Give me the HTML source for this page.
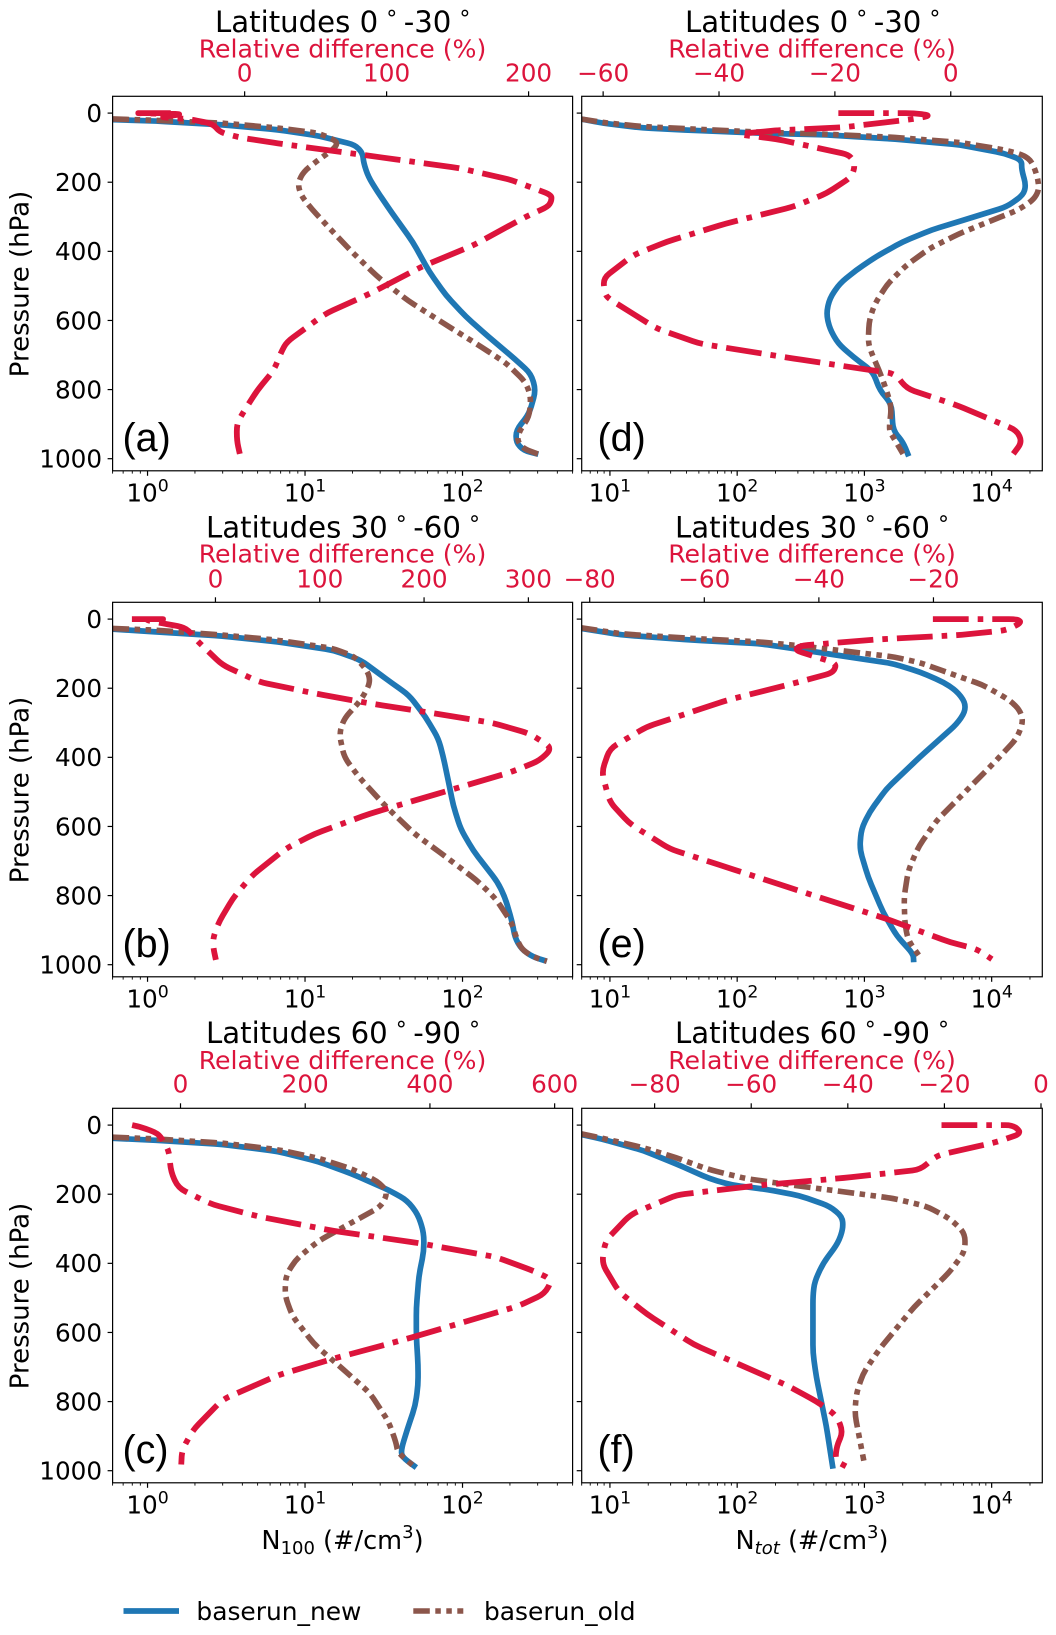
<!DOCTYPE html>
<html lang="en">
<head>
<meta charset="utf-8">
<title>Vertical profiles of N100 and Ntot by latitude band</title>
<style>
html,body{margin:0;padding:0;background:#fff;}
svg{display:block;font-family:"DejaVu Sans","Liberation Sans",sans-serif;}
</style>
</head>
<body>
<svg id="chart" xmlns="http://www.w3.org/2000/svg" width="1056" height="1635" viewBox="0 0 1056 1635">
  <defs id="clips"></defs>
  <g id="panels"></g>

  <g font-size="29.2" fill="#000">
    <text x="215" y="32">Latitudes 0<tspan dx="8" dy="-6" font-size="22">°</tspan><tspan dx="6.5" dy="6">-30</tspan><tspan dx="8" dy="-6" font-size="22">°</tspan></text>
    <text x="685" y="32">Latitudes 0<tspan dx="8" dy="-6" font-size="22">°</tspan><tspan dx="6.5" dy="6">-30</tspan><tspan dx="8" dy="-6" font-size="22">°</tspan></text>
    <text x="206" y="537.5">Latitudes 30<tspan dx="8" dy="-6" font-size="22">°</tspan><tspan dx="6.5" dy="6">-60</tspan><tspan dx="8" dy="-6" font-size="22">°</tspan></text>
    <text x="675" y="537.5">Latitudes 30<tspan dx="8" dy="-6" font-size="22">°</tspan><tspan dx="6.5" dy="6">-60</tspan><tspan dx="8" dy="-6" font-size="22">°</tspan></text>
    <text x="206" y="1043">Latitudes 60<tspan dx="8" dy="-6" font-size="22">°</tspan><tspan dx="6.5" dy="6">-90</tspan><tspan dx="8" dy="-6" font-size="22">°</tspan></text>
    <text x="675" y="1043">Latitudes 60<tspan dx="8" dy="-6" font-size="22">°</tspan><tspan dx="6.5" dy="6">-90</tspan><tspan dx="8" dy="-6" font-size="22">°</tspan></text>
  </g>

  <g font-size="25.2" fill="#dc143c" text-anchor="middle">
    <text x="342.5" y="57.3">Relative difference (%)</text>
    <text x="812" y="57.3">Relative difference (%)</text>
    <text x="342.5" y="562.5">Relative difference (%)</text>
    <text x="812" y="562.5">Relative difference (%)</text>
    <text x="342.5" y="1069">Relative difference (%)</text>
    <text x="812" y="1069">Relative difference (%)</text>
  </g>

  <g font-size="26" fill="#000" text-anchor="middle">
    <text transform="translate(28.5,284) rotate(-90)">Pressure (hPa)</text>
    <text transform="translate(28.5,790) rotate(-90)">Pressure (hPa)</text>
    <text transform="translate(28.5,1296) rotate(-90)">Pressure (hPa)</text>
  </g>

  <g font-size="39.5" fill="#000" style="font-family:'Liberation Sans',sans-serif">
    <text x="122.5" y="450.8">(a)</text>
    <text x="122.5" y="956.8">(b)</text>
    <text x="122.5" y="1462.8">(c)</text>
    <text x="597.5" y="450.8">(d)</text>
    <text x="597.5" y="956.8">(e)</text>
    <text x="597.5" y="1462.8">(f)</text>
  </g>

  <g font-size="25.6" fill="#000" text-anchor="middle">
    <text x="342.5" y="1549">N<tspan dy="5" font-size="18">100</tspan><tspan dy="-5"> (#/cm</tspan><tspan dy="-11" font-size="18">3</tspan><tspan dy="11">)</tspan></text>
    <text x="812" y="1549">N<tspan dy="5" font-size="18" font-style="italic">tot</tspan><tspan dy="-5"> (#/cm</tspan><tspan dy="-11" font-size="18">3</tspan><tspan dy="11">)</tspan></text>
  </g>

  <g>
    <g>
      <line x1="123.5" x2="179" y1="1611" y2="1611" stroke="#1f77b4" stroke-width="5.7"/>
      <text x="196.4" y="1620" font-size="24.9">baserun_new</text>
    </g>
    <g>
      <line x1="413.3" x2="463.3" y1="1611" y2="1611" stroke="#8c564b" stroke-width="5.5" stroke-dasharray="16.5 5.5 5.5 5.5 5.5 5.5"/>
      <text x="484" y="1620" font-size="24.9">baserun_old</text>
    </g>
  </g>
</svg>

<script>
// Panel (a)
const pressureABlue=[19,23,34,48,66,92,116,145,184,227,290,372,459,527,589,647,710,754,802,870,918,952,976,987];
const n100ABlue=[0.6,1.13,2.98,6.7,12.2,20.8,23.2,23.6,25.2,28.8,35.8,48.2,61.5,78.4,105,146,213,272,292,265,219,219,244,303];
const pressureABrown=[17,21,29,43,58,82,101,135,169,203,237,275,333,401,473,541,609,676,725,778,821,879,918,947,971,987];
const n100ABrown=[0.6,1.13,2.98,6.7,12.2,16.1,15.5,12.2,9.8,9.0,9.4,10.9,14.3,19.8,28.8,44.5,76.4,131,191,251,272,265,231,222,244,303];
const pressureARed=[0,0,3,12,17,31,56,71,89,118,137,159,193,237,255,271,300,382,444,522,580,662,691,744,802,870,899,947,986];
const relARed=[-52,-77.7,-43.3,-60.2,-39.4,-22.4,-17.2,-2.9,25.8,78,111.9,151,187.5,216.2,216,213.6,197.9,161.4,124.9,88.4,57.1,29.7,25.8,20.6,8.9,-1.6,-5.5,-5.5,-3.4];

// Panel (d)
const pressureDBlue=[17,29,43,50,58,63,75,92,116,135,164,208,237,271,304,338,372,415,454,493,536,580,623,667,705,749,802,841,918,952,993];
const ntotDBlue=[5.9,8.75,18.1,44.8,150,502,1680,5640,12400,17200,17200,18600,17700,13100,6750,3370,2010,1240,865,640,533,502,533,621,815,1170,1320,1630,1680,2010,2230];
const pressureDBrown=[17,27,39,46,55,61,70,85,106,121,140,184,222,251,280,309,348,391,440,493,551,599,667,705,749,802,850,918,937,986];
const ntotDBrown=[5.9,8.75,18.1,44.8,150,502,1680,5640,12400,17700,20700,22900,23600,21300,16200,10300,5640,3270,2140,1530,1210,1090,1070,1170,1320,1490,1630,1560,1680,2010];
const pressureDRed=[0,0,7,17,24,41,50,61,75,121,150,184,232,271,319,372,411,478,522,536,623,667,710,739,754,797,845,918,952,986];
const relDRed=[-19.4,-6.4,-3.3,-6.4,-9.9,-18.5,-30.1,-37,-30.1,-17.4,-16.5,-17.1,-21.4,-27.2,-38.7,-49,-54.8,-60,-59.7,-59.1,-50.8,-43.3,-27.2,-15.7,-9.6,-7.6,1,11.4,12.3,10.8];

// Panel (b)
const pressureBBlue=[29,37,49,66,90,119,186,220,283,346,399,486,539,607,670,761,805,877,921,955,977,990];
const n100BBlue=[0.6,1.13,2.98,6.7,15.1,22.6,35.8,45.7,58.2,70.3,75.5,82.8,87.3,97.3,117,167,186,207,215,237,279,343];
const pressureBBrown=[27,32,46,61,85,109,153,186,235,288,331,399,457,539,621,684,757,810,882,921,955,977,990];
const n100BBrown=[0.6,1.13,2.98,6.7,15.1,20.8,25.2,25.9,22.6,17.7,16.5,17.7,22,32.1,49.5,76.4,124,163,207,219,237,279,343];
const pressureBRed=[0,0,1,11,22,35,61,133,182,215,244,269,300,331,373,409,443,500,563,621,665,742,805,877,921,950,986];
const relBRed=[-80.1,-46.4,-69.1,-53.5,-32.2,-25,-18.1,6.7,42.2,95.3,148,202,265,301,323,311,283,219,148,95.3,67,35.1,17.4,3.2,-2.1,-2.1,0.4];

// Panel (e)
const pressureEBlue=[27,46,61,71,85,107,129,153,182,208,240,269,304,399,491,558,607,665,747,848,916,969,993];
const ntotEBlue=[5.9,12.6,44.8,150,274,679,1680,2730,4160,5300,6170,6170,5300,2730,1490,1100,946,918,1070,1400,1790,2420,2440];
const pressureEBrown=[25,43,56,66,75,92,109,126,157,191,235,264,298,346,418,515,583,660,728,805,882,930,974];
const ntotEBrown=[5.9,12.6,44.8,150,274,679,1680,2730,4700,8590,13900,16700,17700,15700,10300,5640,3690,2650,2210,2050,2080,2210,2690];
const pressureERed=[0,0,10,32,46,59,77,90,128,155,186,235,312,375,442,529,592,665,718,781,868,935,955,984];
const relERed=[-20.1,-5.4,-4.6,-7.2,-15.3,-29.9,-43.3,-44.2,-36.9,-37.5,-44.4,-56.1,-70.1,-76.5,-77.9,-76.5,-73,-66,-56.1,-44.4,-28.1,-17.1,-12.4,-9.8];

// Panel (c)
const pressureCBlue=[38,44,56,76,106,141,188,218,259,312,365,435,529,612,694,753,812,882,935,959,991];
const n100CBlue=[0.6,1.13,2.98,6.7,12.2,19.8,34,44.5,52.2,56.8,56.8,52.9,50.9,50.9,52.2,52.2,50.1,44.5,41,41,50.9];
const pressureCBrown=[35,40,52,71,96,127,162,194,235,282,335,388,435,494,553,635,700,776,859,918,947,991];
const n100CBrown=[0.6,1.13,2.98,6.7,12.2,19.8,28.8,33.6,30.5,19.8,12.2,8.79,7.55,7.46,8.32,11.5,16.8,25.9,34,37.8,38.8,50.1];
const pressureCRed=[0,6,24,47,76,135,182,229,265,306,341,382,421,447,488,524,618,676,724,794,882,941,982];
const relCRed=[-77.6,-62.8,-36.1,-27.2,-18.4,-15.4,-3.6,49.7,126.7,245,381,506,565,596,584,541,364,245,156,67.5,20.1,2.4,1.2];

// Panel (f)
const pressureFBlue=[27,41,73,112,155,174,186,204,235,265,300,341,400,453,494,659,729,871,994];
const ntotFBlue=[5.9,8.75,18.1,33.1,60.5,92.5,169,310,533,671,679,621,473,406,394,394,419,502,566];
const pressureFBrown=[25,38,65,94,129,155,174,194,212,235,271,312,365,424,529,647,718,776,835,971];
const ntotFBrown=[5.9,8.75,18.1,33.1,60.5,118,274,721,1680,3080,4700,6170,6170,4700,2420,1320,977,865,840,989];
const pressureFRed=[0,0,24,49,88,129,153,174,202,259,335,400,482,547,635,753,800,841,888,929,971,988];
const relFRed=[-20.6,-5.7,-4,-9.2,-21.6,-25,-40.9,-58.1,-75.4,-85,-90.2,-90.9,-87.4,-81.6,-71.9,-52.6,-46.4,-42.3,-41,-42.3,-42.6,-40.3];

// Tick labels
const pressureTicks=[0,200,400,600,800,1000];
const logTicksN100=[1,10,100];
const logTicksNtot=[10,100,1000,10000];
const relTicksA=[0,100,200];
const relTicksB=[0,100,200,300];
const relTicksC=[0,200,400,600];
const relTicksD=[-60,-40,-20,0];
const relTicksE=[-80,-60,-40,-20];
const relTicksF=[-80,-60,-40,-20,0];

const NS='http://www.w3.org/2000/svg';
const panelsRoot=document.getElementById('panels');
const clips=document.getElementById('clips');

function mk(parent,tag,attrs,text){
  const el=document.createElementNS(NS,tag);
  for(const k in attrs){el.setAttribute(k,attrs[k]);}
  if(text!==undefined){el.textContent=text;}
  parent.appendChild(el);
  return el;
}
function fmtTick(v){return String(v).replace('-','\u2212');}

// Path through the mapped points with softly rounded joints.
function roundedPath(pts){
  const R=8;
  let d='M'+pts[0][0].toFixed(2)+' '+pts[0][1].toFixed(2);
  for(let i=1;i<pts.length-1;i++){
    const a=pts[i-1],b=pts[i],c=pts[i+1];
    const l1=Math.hypot(b[0]-a[0],b[1]-a[1])||1;
    const l2=Math.hypot(c[0]-b[0],c[1]-b[1])||1;
    const r1=Math.min(R,0.45*l1),r2=Math.min(R,0.45*l2);
    const sx=b[0]-(b[0]-a[0])/l1*r1,sy=b[1]-(b[1]-a[1])/l1*r1;
    const ex=b[0]+(c[0]-b[0])/l2*r2,ey=b[1]+(c[1]-b[1])/l2*r2;
    d+='L'+sx.toFixed(2)+' '+sy.toFixed(2)+'Q'+b[0].toFixed(2)+' '+b[1].toFixed(2)+' '+ex.toFixed(2)+' '+ey.toFixed(2);
  }
  const z=pts[pts.length-1];
  d+='L'+z[0].toFixed(2)+' '+z[1].toFixed(2);
  return d;
}

function drawPanel(cfg){
  const L=cfg.left,T=cfg.top,W=cfg.width,H=374.5;
  const pMin=-48.6,pMax=1035;
  const yOf=p=>T+(p-pMin)/(pMax-pMin)*H;
  const lmin=Math.log10(cfg.xMin),lmax=Math.log10(cfg.xMax);
  const xLog=v=>L+(Math.log10(v)-lmin)/(lmax-lmin)*W;
  const xRel=v=>L+(v-cfg.relMin)/(cfg.relMax-cfg.relMin)*W;

  const g=mk(panelsRoot,'g',{});
  
  

  const clip=mk(clips,'clipPath',{id:'clip-'+cfg.id});
  mk(clip,'rect',{x:L,y:T,width:W,height:H});

  const series=[
    {name:'baserun-new',color:'#1f77b4',width:5.7,dash:'',xs:cfg.blue[1],ps:cfg.blue[0],fx:xLog},
    {name:'baserun-old',color:'#8c564b',width:5.6,dash:'16.5 5.5 5.5 5.5 5.5 5.5',xs:cfg.brown[1],ps:cfg.brown[0],fx:xLog},
    {name:'relative-difference',color:'#dc143c',width:5.8,dash:'35.8 9 5.6 9',xs:cfg.red[1],ps:cfg.red[0],fx:xRel}
  ];
  const plot=mk(g,'g',{'clip-path':'url(#clip-'+cfg.id+')'});
  
  
  series.forEach(function(s){
    const pts=s.xs.map((v,i)=>[s.fx(v),yOf(s.ps[i])]);
    const line=mk(plot,'path',{d:roundedPath(pts),fill:'none',stroke:s.color,'stroke-width':s.width,'stroke-linejoin':'round','stroke-linecap':'butt'});
    if(s.dash){line.setAttribute('stroke-dasharray',s.dash);}
    
    
  });

  const frame=mk(g,'rect',{x:L,y:T,width:W,height:H,fill:'none',stroke:'#000','stroke-width':1.2});
  
  

  const yAxis=mk(g,'g',{});
  
  
  pressureTicks.forEach(function(p){
    const y=yOf(p);
    mk(yAxis,'line',{x1:L-5,x2:L,y1:y,y2:y,stroke:'#000','stroke-width':1.2});
    if(cfg.yLabels){
      mk(yAxis,'text',{x:L-10.5,y:y+8.9,'font-size':24.7,'text-anchor':'end',fill:'#000'},String(p));
    }
  });

  const xAxis=mk(g,'g',{});
  
  
  for(let e=Math.floor(lmin);e<=Math.ceil(lmax);e++){
    for(let m=2;m<=9;m++){
      const v=m*Math.pow(10,e);
      if(v>=cfg.xMin&&v<=cfg.xMax){
        const x=xLog(v);
        mk(xAxis,'line',{x1:x,x2:x,y1:T+H,y2:T+H+2.8,stroke:'#000','stroke-width':0.9});
      }
    }
  }
  cfg.logTicks.forEach(function(v){
    const x=xLog(v);
    mk(xAxis,'line',{x1:x,x2:x,y1:T+H,y2:T+H+5,stroke:'#000','stroke-width':1.2});
    const t=mk(xAxis,'text',{x:x,y:T+H+30.5,'font-size':24.7,'text-anchor':'middle',fill:'#000'});
    mk(t,'tspan',{},'10');
    mk(t,'tspan',{dy:-10,'font-size':17.3},String(Math.round(Math.log10(v))));
  });

  const topAxis=mk(g,'g',{});
  
  
  cfg.relTicks.forEach(function(v){
    const x=xRel(v);
    mk(topAxis,'line',{x1:x,x2:x,y1:T-5,y2:T,stroke:'#000','stroke-width':1.2});
    mk(topAxis,'text',{x:x,y:T-cfg.topGap,'font-size':24.7,'text-anchor':'middle',fill:'#dc143c'},fmtTick(v));
  });
}

const LEFT_X=112.6,RIGHT_X=581.7,ROW=[96.3,602.3,1108.3];
drawPanel({id:'a',left:LEFT_X,top:ROW[0],topGap:15,width:460,xMin:0.6,xMax:500,relMin:-93,relMax:231,yLabels:true,logTicks:logTicksN100,relTicks:relTicksA,blue:[pressureABlue,n100ABlue],brown:[pressureABrown,n100ABrown],red:[pressureARed,relARed]});
drawPanel({id:'b',left:LEFT_X,top:ROW[1],topGap:15,width:460,xMin:0.6,xMax:500,relMin:-98.6,relMax:342.4,yLabels:true,logTicks:logTicksN100,relTicks:relTicksB,blue:[pressureBBlue,n100BBlue],brown:[pressureBBrown,n100BBrown],red:[pressureBRed,relBRed]});
drawPanel({id:'c',left:LEFT_X,top:ROW[2],topGap:16,width:460,xMin:0.6,xMax:500,relMin:-108.9,relMax:628.8,yLabels:true,logTicks:logTicksN100,relTicks:relTicksC,blue:[pressureCBlue,n100CBlue],brown:[pressureCBrown,n100CBrown],red:[pressureCRed,relCRed]});
drawPanel({id:'d',left:RIGHT_X,top:ROW[0],topGap:15,width:460.6,xMin:6,xMax:25000,relMin:-63.7,relMax:15.8,yLabels:false,logTicks:logTicksNtot,relTicks:relTicksD,blue:[pressureDBlue,ntotDBlue],brown:[pressureDBrown,ntotDBrown],red:[pressureDRed,relDRed]});
drawPanel({id:'e',left:RIGHT_X,top:ROW[1],topGap:15,width:460.6,xMin:6,xMax:25000,relMin:-81.4,relMax:-1,yLabels:false,logTicks:logTicksNtot,relTicks:relTicksE,blue:[pressureEBlue,ntotEBlue],brown:[pressureEBrown,ntotEBrown],red:[pressureERed,relERed]});
drawPanel({id:'f',left:RIGHT_X,top:ROW[2],topGap:16,width:460.6,xMin:6,xMax:25000,relMin:-95.1,relMax:0.27,yLabels:false,logTicks:logTicksNtot,relTicks:relTicksF,blue:[pressureFBlue,ntotFBlue],brown:[pressureFBrown,ntotFBrown],red:[pressureFRed,relFRed]});
</script>
</body>
</html>
